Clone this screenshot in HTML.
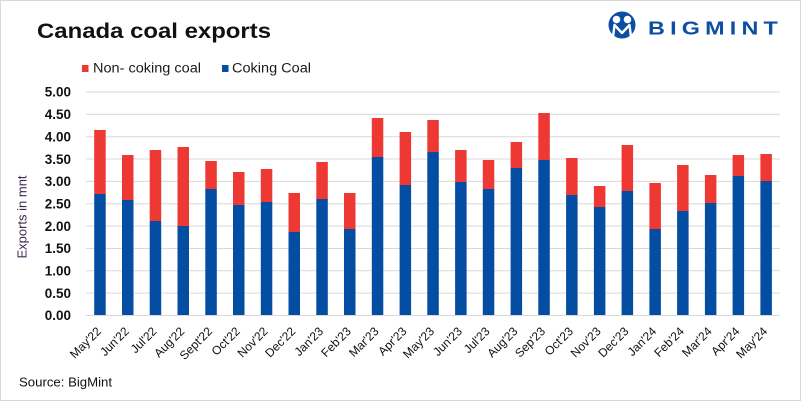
<!DOCTYPE html>
<html>
<head>
<meta charset="utf-8">
<style>
html,body{margin:0;padding:0;background:#fff;}
svg{display:block;}
text{font-family:"Liberation Sans",Arial,sans-serif;}
</style>
</head>
<body>
<svg width="801" height="402" viewBox="0 0 801 402" xmlns="http://www.w3.org/2000/svg">
<rect x="0" y="0" width="801" height="402" fill="#fff"/>
<rect x="0.5" y="0.5" width="800" height="400" fill="none" stroke="#d9d9d9" stroke-width="1"/>

<!-- Title -->
<text x="37" y="38" font-size="21.5" font-weight="bold" fill="#111" textLength="234" lengthAdjust="spacingAndGlyphs">Canada coal exports</text>

<!-- Logo -->
<g>
  <circle cx="622" cy="25" r="13.5" fill="#0B4EA2"/>
  <circle cx="616.5" cy="19.5" r="3.8" fill="#fff"/>
  <circle cx="627.5" cy="19.5" r="3.8" fill="#fff"/>
  <path d="M613 37 L614.5 25 L622 33 L629.5 25 L631 37" fill="none" stroke="#fff" stroke-width="2.4" stroke-linejoin="round"/>
  <text x="648" y="34.5" font-size="18" font-weight="bold" fill="#0B4EA2" letter-spacing="4" textLength="135" lengthAdjust="spacingAndGlyphs">BIGMINT</text>
</g>

<!-- Legend -->
<rect x="82" y="65" width="6.5" height="7" fill="#EE3833"/>
<text x="93" y="72.7" font-size="13.5" fill="#1a1a1a" textLength="108" lengthAdjust="spacingAndGlyphs">Non- coking coal</text>
<rect x="222" y="65" width="6.5" height="7" fill="#034EA2"/>
<text x="232" y="72.7" font-size="13.5" fill="#1a1a1a" textLength="79" lengthAdjust="spacingAndGlyphs">Coking Coal</text>

<!-- Gridlines -->
<g stroke="#d9d9d9" stroke-width="1">
  <line x1="86" x2="780" y1="92" y2="92"/>
  <line x1="86" x2="780" y1="114.35" y2="114.35"/>
  <line x1="86" x2="780" y1="136.7" y2="136.7"/>
  <line x1="86" x2="780" y1="159.05" y2="159.05"/>
  <line x1="86" x2="780" y1="181.4" y2="181.4"/>
  <line x1="86" x2="780" y1="203.75" y2="203.75"/>
  <line x1="86" x2="780" y1="226.1" y2="226.1"/>
  <line x1="86" x2="780" y1="248.45" y2="248.45"/>
  <line x1="86" x2="780" y1="270.8" y2="270.8"/>
  <line x1="86" x2="780" y1="293.15" y2="293.15"/>
  <line x1="86" x2="780" y1="315.5" y2="315.5"/>
</g>

<!-- Y tick labels -->
<g font-size="13.5" font-weight="bold" fill="#111" text-anchor="end">
  <text x="71" y="96.7">5.00</text>
  <text x="71" y="119.05">4.50</text>
  <text x="71" y="141.4">4.00</text>
  <text x="71" y="163.75">3.50</text>
  <text x="71" y="186.1">3.00</text>
  <text x="71" y="208.45">2.50</text>
  <text x="71" y="230.8">2.00</text>
  <text x="71" y="253.15">1.50</text>
  <text x="71" y="275.5">1.00</text>
  <text x="71" y="297.85">0.50</text>
  <text x="71" y="320.2">0.00</text>
</g>

<!-- Y axis title -->
<text transform="translate(26.5,217) rotate(-90)" text-anchor="middle" font-size="13" fill="#3b2a4d">Exports in mnt</text>

<!-- Bars -->
<g id="bars">
  <rect x="94.2" y="130" width="11.5" height="64" fill="#EE3833"/><rect x="94.2" y="194" width="11.5" height="121.5" fill="#034EA2"/>
  <rect x="122" y="155" width="11.5" height="45" fill="#EE3833"/><rect x="122" y="200" width="11.5" height="115.5" fill="#034EA2"/>
  <rect x="149.7" y="150" width="11.5" height="71" fill="#EE3833"/><rect x="149.7" y="221" width="11.5" height="94.5" fill="#034EA2"/>
  <rect x="177.5" y="147" width="11.5" height="79" fill="#EE3833"/><rect x="177.5" y="226" width="11.5" height="89.5" fill="#034EA2"/>
  <rect x="205.3" y="161" width="11.5" height="28" fill="#EE3833"/><rect x="205.3" y="189" width="11.5" height="126.5" fill="#034EA2"/>
  <rect x="233" y="172" width="11.5" height="33" fill="#EE3833"/><rect x="233" y="205" width="11.5" height="110.5" fill="#034EA2"/>
  <rect x="260.8" y="169" width="11.5" height="33" fill="#EE3833"/><rect x="260.8" y="202" width="11.5" height="113.5" fill="#034EA2"/>
  <rect x="288.5" y="193" width="11.5" height="39" fill="#EE3833"/><rect x="288.5" y="232" width="11.5" height="83.5" fill="#034EA2"/>
  <rect x="316.3" y="162" width="11.5" height="37" fill="#EE3833"/><rect x="316.3" y="199" width="11.5" height="116.5" fill="#034EA2"/>
  <rect x="344" y="193" width="11.5" height="36" fill="#EE3833"/><rect x="344" y="229" width="11.5" height="86.5" fill="#034EA2"/>
  <rect x="371.8" y="118" width="11.5" height="39" fill="#EE3833"/><rect x="371.8" y="157" width="11.5" height="158.5" fill="#034EA2"/>
  <rect x="399.6" y="132" width="11.5" height="53" fill="#EE3833"/><rect x="399.6" y="185" width="11.5" height="130.5" fill="#034EA2"/>
  <rect x="427.3" y="120" width="11.5" height="32" fill="#EE3833"/><rect x="427.3" y="152" width="11.5" height="163.5" fill="#034EA2"/>
  <rect x="455.1" y="150" width="11.5" height="32" fill="#EE3833"/><rect x="455.1" y="182" width="11.5" height="133.5" fill="#034EA2"/>
  <rect x="482.8" y="160" width="11.5" height="29" fill="#EE3833"/><rect x="482.8" y="189" width="11.5" height="126.5" fill="#034EA2"/>
  <rect x="510.6" y="142" width="11.5" height="26" fill="#EE3833"/><rect x="510.6" y="168" width="11.5" height="147.5" fill="#034EA2"/>
  <rect x="538.3" y="113" width="11.5" height="47" fill="#EE3833"/><rect x="538.3" y="160" width="11.5" height="155.5" fill="#034EA2"/>
  <rect x="566.1" y="158" width="11.5" height="37" fill="#EE3833"/><rect x="566.1" y="195" width="11.5" height="120.5" fill="#034EA2"/>
  <rect x="593.9" y="186" width="11.5" height="21" fill="#EE3833"/><rect x="593.9" y="207" width="11.5" height="108.5" fill="#034EA2"/>
  <rect x="621.6" y="145" width="11.5" height="46" fill="#EE3833"/><rect x="621.6" y="191" width="11.5" height="124.5" fill="#034EA2"/>
  <rect x="649.4" y="183" width="11.5" height="46" fill="#EE3833"/><rect x="649.4" y="229" width="11.5" height="86.5" fill="#034EA2"/>
  <rect x="677.1" y="165" width="11.5" height="46" fill="#EE3833"/><rect x="677.1" y="211" width="11.5" height="104.5" fill="#034EA2"/>
  <rect x="704.9" y="175" width="11.5" height="28" fill="#EE3833"/><rect x="704.9" y="203" width="11.5" height="112.5" fill="#034EA2"/>
  <rect x="732.6" y="155" width="11.5" height="21" fill="#EE3833"/><rect x="732.6" y="176" width="11.5" height="139.5" fill="#034EA2"/>
  <rect x="760.4" y="154" width="11.5" height="27" fill="#EE3833"/><rect x="760.4" y="181" width="11.5" height="134.5" fill="#034EA2"/>
</g>

<line x1="86" x2="780" y1="315.5" y2="315.5" stroke="#d9d9d9" stroke-width="1"/>

<!-- X labels -->
<g font-size="12" fill="#111" text-anchor="end">
  <text transform="translate(101.9,332) rotate(-45)">May'22</text>
  <text transform="translate(129.7,332) rotate(-45)">Jun'22</text>
  <text transform="translate(157.4,332) rotate(-45)">Jul'22</text>
  <text transform="translate(185.2,332) rotate(-45)">Aug'22</text>
  <text transform="translate(213,332) rotate(-45)">Sept'22</text>
  <text transform="translate(240.7,332) rotate(-45)">Oct'22</text>
  <text transform="translate(268.5,332) rotate(-45)">Nov'22</text>
  <text transform="translate(296.2,332) rotate(-45)">Dec'22</text>
  <text transform="translate(324,332) rotate(-45)">Jan'23</text>
  <text transform="translate(351.7,332) rotate(-45)">Feb'23</text>
  <text transform="translate(379.5,332) rotate(-45)">Mar'23</text>
  <text transform="translate(407.3,332) rotate(-45)">Apr'23</text>
  <text transform="translate(435,332) rotate(-45)">May'23</text>
  <text transform="translate(462.8,332) rotate(-45)">Jun'23</text>
  <text transform="translate(490.5,332) rotate(-45)">Jul'23</text>
  <text transform="translate(518.3,332) rotate(-45)">Aug'23</text>
  <text transform="translate(546,332) rotate(-45)">Sep'23</text>
  <text transform="translate(573.8,332) rotate(-45)">Oct'23</text>
  <text transform="translate(601.6,332) rotate(-45)">Nov'23</text>
  <text transform="translate(629.3,332) rotate(-45)">Dec'23</text>
  <text transform="translate(657.1,332) rotate(-45)">Jan'24</text>
  <text transform="translate(684.8,332) rotate(-45)">Feb'24</text>
  <text transform="translate(712.6,332) rotate(-45)">Mar'24</text>
  <text transform="translate(740.3,332) rotate(-45)">Apr'24</text>
  <text transform="translate(768.1,332) rotate(-45)">May'24</text>
</g>

<!-- Source -->
<text x="19" y="386.5" font-size="13" fill="#111" textLength="93" lengthAdjust="spacingAndGlyphs">Source: BigMint</text>
</svg>
</body>
</html>
